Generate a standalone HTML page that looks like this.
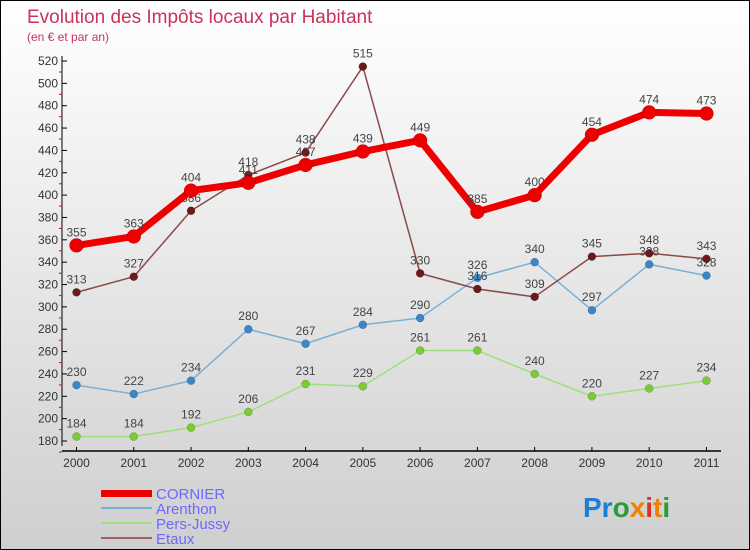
<!DOCTYPE html>
<html><head><meta charset="utf-8"><style>
body{margin:0}
#c{width:748px;height:548px;border:1px solid #000;background:linear-gradient(#ffffff,#cfcfcf);position:relative;font-family:"Liberation Sans",sans-serif}
svg{position:absolute;left:0;top:0}
</style></head><body>
<div id="c">
<svg id="s" width="748" height="548">
<text x="26" y="22" font-size="19" fill="#c8335a">Evolution des Impôts locaux par Habitant</text>
<text x="26" y="40" font-size="12" fill="#c8335a">(en € et par an)</text>
<g id="axes"></g><g id="series"></g>
<g>
<rect x="100" y="489" width="51" height="7" fill="#e00"/>
<text x="155" y="498" font-size="15" fill="#6a6aff">CORNIER</text>
<line x1="100" y1="507" x2="151" y2="507" stroke="#7ab0d4" stroke-width="2"/>
<text x="155" y="513" font-size="15" fill="#6a6aff">Arenthon</text>
<line x1="100" y1="522" x2="151" y2="522" stroke="#9ee07a" stroke-width="2"/>
<text x="155" y="528" font-size="15" fill="#6a6aff">Pers-Jussy</text>
<line x1="100" y1="537" x2="151" y2="537" stroke="#a06060" stroke-width="2"/>
<text x="155" y="543" font-size="15" fill="#6a6aff">Etaux</text>
</g>
<g font-size="28" font-weight="bold" font-family="Liberation Sans,sans-serif">
<text x="582" y="516"><tspan fill="#1a7fd4">Pr</tspan><tspan fill="#2a9a3a">o</tspan><tspan fill="#f08000">x</tspan><tspan fill="#e03020">i</tspan><tspan fill="#f08000">t</tspan><tspan fill="#2a9a3a">i</tspan></text>
</g>
</svg>
</div>
<script>
const years=[2000,2001,2002,2003,2004,2005,2006,2007,2008,2009,2010,2011];
const cornier=[355,363,404,411,427,439,449,385,400,454,474,473];
const arenthon=[230,222,234,280,267,284,290,326,340,297,338,328];
const persJussy=[184,184,192,206,231,229,261,261,240,220,227,234];
const etaux=[313,327,386,418,438,515,330,316,309,345,348,343];
const yTicks=[180,200,220,240,260,280,300,320,340,360,380,400,420,440,460,480,500,520];
const NS="http://www.w3.org/2000/svg";
const xs=i=>75.5+i*57.27;
const ys=v=>440-(v-180)*380/340;
function mk(t,a,p){const e=document.createElementNS(NS,t);for(const k in a)e.setAttribute(k,a[k]);p.appendChild(e);return e;}
const ax=document.getElementById('axes');
const yl=mk('line',{x1:61,y1:55,x2:61,y2:445,stroke:'#000'},ax);


const xl=mk('line',{x1:61,y1:450,x2:720,y2:450,stroke:'#000','stroke-width':1.5},ax);


yTicks.forEach(v=>{
 mk('line',{x1:61,y1:ys(v),x2:66,y2:ys(v),stroke:'#000'},ax);
 mk('line',{x1:58,y1:ys(v)+11,x2:61,y2:ys(v)+11,stroke:'#e00'},ax);
 const t=mk('text',{x:57,y:ys(v)+4,'font-size':12,fill:'#333','text-anchor':'end'},ax);t.textContent=v;
 
 
});
years.forEach((y,i)=>{
 mk('line',{x1:xs(i),y1:446,x2:xs(i),y2:450,stroke:'#000'},ax);
 const t=mk('text',{x:xs(i),y:466,'font-size':12,fill:'#333','text-anchor':'middle'},ax);t.textContent=y;
 
 
});
const sg=document.getElementById('series');
function draw(data,color,w,r,dot,name){
 const g=mk('g',{},sg);
 
 
 const pl=mk('polyline',{points:data.map((v,i)=>xs(i)+','+ys(v)).join(' '),fill:'none',stroke:color,'stroke-width':w,'stroke-linejoin':'round'},g);
 
 
 data.forEach((v,i)=>{
  const c=mk('circle',{cx:xs(i),cy:ys(v),r:r,fill:dot,stroke:'rgba(0,0,0,0.3)','stroke-width':0.5},g);
  
  
  const t=mk('text',{x:xs(i),y:ys(v)-9,'font-size':12,fill:'#444','text-anchor':'middle'},g);t.textContent=v;
  
  
 });
}
draw(persJussy,'#9ee07a',1.5,4,'#7acc33','pers-jussy');
draw(arenthon,'#7ab0d4',1.5,4,'#3a86c8','arenthon');
draw(etaux,'#8a4a4a',1.5,4,'#6a1a1a','etaux');
draw(cornier,'#ee0000',7,7,'#ee0000','cornier');
</script>
</body></html>
